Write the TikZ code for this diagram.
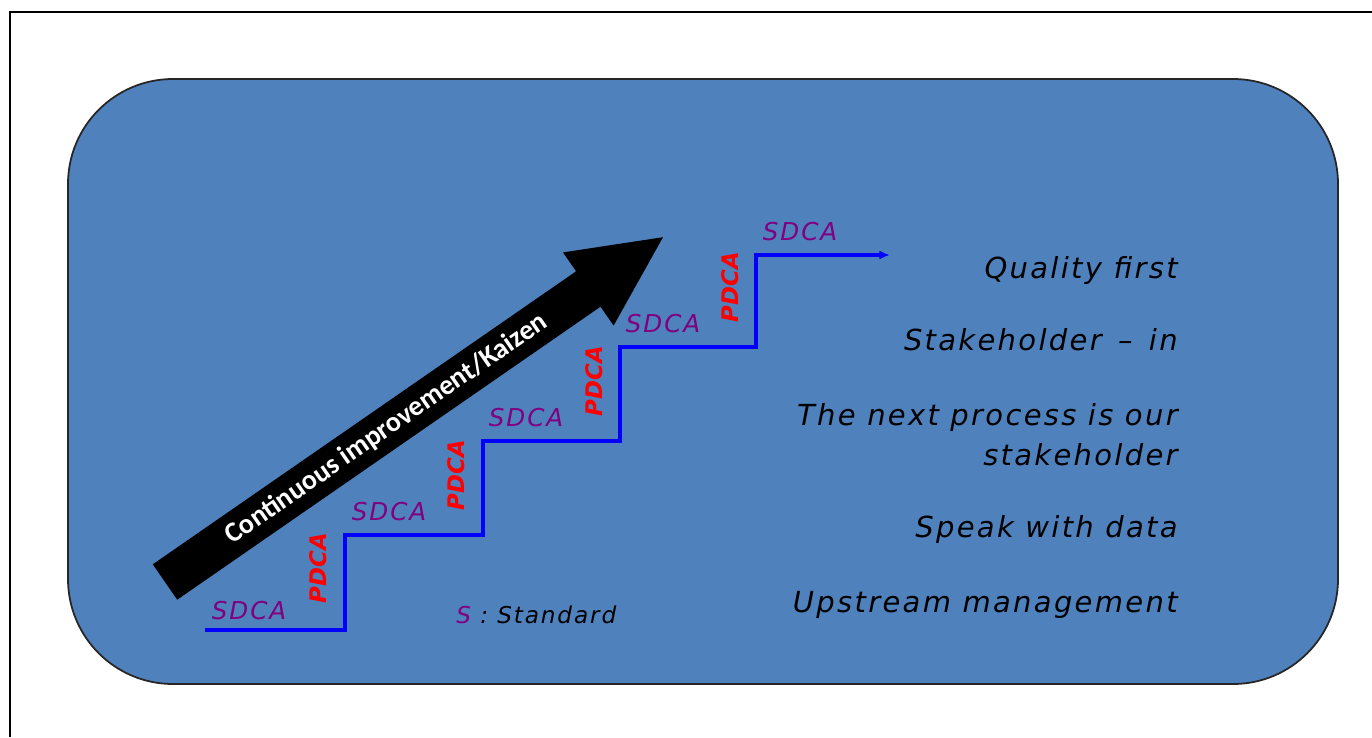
\documentclass[tikz,border=0pt]{standalone}
\usepackage{fontspec}
\setmainfont{DejaVu Sans}
\newfontfamily\spacedfont[LetterSpace=8]{DejaVu Sans}
\newfontfamily\kaizenfont{Carlito}
\usetikzlibrary{arrows.meta}
\usetikzlibrary{positioning}
\definecolor{boardblue}{HTML}{4F81BD}
\definecolor{cyclepurple}{HTML}{800080}
\tikzset{board/.style = {fill=boardblue, draw=black!85, line width=1pt, rounded corners=2.1cm}}
\tikzset{stairs/.style = {draw=blue, line width=2.3pt, -{Latex[length=6pt, width=5pt]}}}
\tikzset{sdca/.style = {font=\spacedfont\fontsize{14}{16}\selectfont\itshape, text=cyclepurple, inner sep=0}}
\tikzset{pdca/.style = {font=\fontsize{13}{15}\selectfont\bfseries\itshape, text=red, rotate=90, inner sep=0}}
\tikzset{motto/.style = {font=\spacedfont\fontsize{16.5}{20}\selectfont\itshape, anchor=base east, inner sep=0}}
\tikzset{kaizen/.style = {font=\kaizenfont\fontsize{16}{18}\selectfont\bfseries, text=white, rotate=34.7, inner sep=0}}

\begin{document}
\begin{tikzpicture}[x=0.02cm, y=-0.02cm]
  \useasboundingbox (0,0) rectangle (1372,737);
  \draw [line width=1.1pt] (10,737) -- (10,12) -- (1372,12);
  \draw [board] (68,79) rectangle (1338,684);

  % big arrow
  \fill (152.8,564.3) -- (576.1,271.3) -- (563,252.4) -- (663,237.2)
    -- (613.6,325.6) -- (600.5,306.7) -- (177.2,599.7) -- cycle;
  \node [kaizen] (kaizen) at (386.5,429) {Continuous improvement/Kaizen};

  % staircase
  \draw [stairs] (205,630) -| (345,535) -| (483,441) -| (620,347) -| (756,255) -- (890,255);
  \node [sdca] (s1) at (249,611) {SDCA};
  \node [sdca] (s2) at (389,512) {SDCA};
  \node [sdca] (s3) at (526,418) {SDCA};
  \node [sdca] (s4) at (663,324) {SDCA};
  \node [sdca] (s5) at (800,232) {SDCA};
  \node [pdca] (p1) at (318,568) {PDCA};
  \node [pdca] (p2) at (456,475) {PDCA};
  \node [pdca] (p3) at (594,381) {PDCA};
  \node [pdca] (p4) at (730,287) {PDCA};
  \node [font=\spacedfont\fontsize{13.2}{15}\selectfont\itshape, anchor=base west, inner sep=0]
    (legend) at (456,623) {\textcolor{cyclepurple}{S} : Standard};

  % principles
  \node [motto] (quality) at (1178,278) {Quality first};
  \node [motto] (stake) at (1178,350) {Stakeholder \,–\, in};
  \node [motto] (next) at (1178,425) {The next process is our};
  \node [motto] (next2) at (1178,465) {stakeholder};
  \node [motto] (data) at (1178,537) {Speak with data};
  \node [motto] (upstream) at (1178,612) {Upstream management};
\end{tikzpicture}
\end{document}
